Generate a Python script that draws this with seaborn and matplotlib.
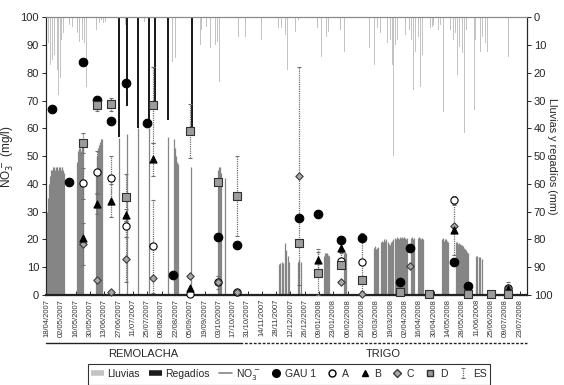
import numpy as np
import pandas as pd
import matplotlib
matplotlib.use("Agg")
import matplotlib.pyplot as plt
import matplotlib.dates as mdates
from matplotlib.lines import Line2D
import seaborn as sns

nan = np.nan
inicio = pd.Timestamp("2007-04-18")

# muestreos (dias desde 18/04/2007) y NO3- (mg/l)
muestreo_dia = [5, 21, 35, 49, 63, 77, 98, 104, 123, 140, 167, 186,
                246, 265, 287, 308, 345, 355, 373, 398, 412, 434, 451]
gau1 = [67, 40.8, 84, 70.2, 62.8, 76.4, 61.8, nan, 7.2, nan, 20.8, 17.8,
        27.8, 29, 19.8, 20.6, 4.5, 17, nan, 11.8, 3.2, nan, nan]
a = [nan, nan, 40.2, 44.4, 42, 24.8, nan, 17.5, nan, 0.3, 4.5, 1,
     nan, nan, 12.3, 11.8, nan, nan, nan, 34.3, nan, nan, 2.5]
b = [nan, nan, 20.4, 32.6, 34, 28.8, nan, 48.8, nan, 2.6, nan, nan,
     nan, 12.6, 17, nan, nan, nan, nan, 23.5, nan, nan, 2]
c = [nan, nan, 18.3, 5.2, 1.2, 12.8, nan, 6, nan, 6.8, 4.5, 1.2,
     42.8, nan, 4.5, 0.4, nan, 10.4, nan, 25, nan, nan, 2.5]
d = [nan, nan, 54.8, 68.3, 68.6, 35.1, nan, 68.4, nan, 59.1, 40.5, 35.7,
     18.6, 7.8, 10.8, 5.2, 1.2, nan, 0.2, nan, 0.2, 0.2, 0.2]
# error estandar (ES)
es_a = [nan, nan, 5.5, 7.6, 8, 4, nan, 16.8, nan, nan, nan, nan,
        nan, nan, 3, 10.5, nan, nan, nan, 1.4, nan, nan, 2]
es_b = [nan, nan, nan, 3.6, 5.8, 2, nan, 5.8, nan, nan, nan, nan,
        nan, 3.8, 2, nan, nan, nan, nan, 9, nan, nan, nan]
es_c = [nan, nan, 7.5, nan, nan, 8, nan, nan, nan, nan, 2.2, nan,
        39.4, nan, nan, nan, nan, nan, nan, nan, nan, nan, nan]
es_d = [nan, nan, 3.7, 2, 2.3, 8.4, nan, 13.6, nan, 9.7, nan, 14.3,
        nan, 7.8, nan, nan, nan, nan, nan, nan, nan, nan, nan]

# lluvias (mm)
lluvia_dia = [1, 3, 5, 7, 10, 11, 13, 14, 16, 22, 25, 30, 32, 35, 37, 39, 41,
              48, 51, 53, 55, 57, 77, 79, 95, 123, 126, 128, 150, 151, 156,
              160, 165, 167, 169, 174, 187, 194, 210, 215, 217, 226, 229,
              233, 235, 243, 246, 261, 264, 268, 273, 275, 287, 291, 315,
              320, 323, 326, 333, 336, 338, 339, 341, 343, 346, 348, 350,
              354, 356, 358, 360, 363, 365, 367, 375, 377, 378, 383, 385,
              388, 390, 393, 394, 397, 399, 401, 403, 406, 408, 410, 418,
              419, 424, 426, 429, 431, 434, 451]
lluvia_mm = [9.4, 17.2, 15.4, 13.6, 19, 28, 22, 8.2, 5.8, 2.8, 3.4, 5.8, 8.8,
             8.2, 9.4, 25, 5.2, 4.6, 2.2, 1, 2.2, 1.6, 2.8, 2.2, 1.6, 16,
             14.8, 13.6, 10, 4.6, 3.4, 11.2, 10, 8.8, 23.2, 14.2, 7, 7, 8.2,
             10, 7, 4, 4, 6.4, 19, 5.2, 1, 5.2, 4, 14.2, 7, 5.2, 4.6, 12.4,
             11.2, 17.2, 4, 5.8, 9.4, 8.2, 17.2, 50, 10, 8.2, 10, 9.4, 6.4,
             4.6, 8.2, 26.2, 12.4, 7, 25, 13.6, 4, 3.4, 2.8, 4.6, 2.8, 34,
             15.4, 8.8, 4.6, 8.2, 5.8, 20.8, 10.6, 13, 41.7, 4.6, 33.3, 8.2,
             12.4, 7, 9.4, 12.4, 8.2, 14.2]

# regadios (mm)
riego_dia = [70, 78, 89, 100, 106, 118, 142]
riego_mm = [43, 32, 40, 39, 33, 37, 41]

# NO3- continuo (mg/l)
no3_dia = [-1, 0, 1, 2, 3, 4, 5, 6, 7, 8, 9, 10, 11, 12, 13, 14, 15, 16, 17,
           29, 30, 31, 32, 33, 34, 35,
           48, 49, 50, 51, 52, 53, 54,
           70, 78, 89, 100, 118, 124, 125, 126, 127, 128, 141,
           167, 168, 169, 170, 174,
           227, 228, 230, 231, 233, 234, 236, 237, 245, 246, 248,
           271, 272, 273, 274, 275, 276, 290, 291, 292,
           320, 321, 322, 323, 324, 326, 327, 328, 329, 330, 331,
           333, 334, 335, 336, 337, 338, 340, 341, 342, 343, 344, 345, 346,
           347, 348, 349, 350, 351, 352, 356, 357, 358, 359,
           363, 364, 365, 366, 367, 368,
           386, 387, 388, 389, 390, 391, 392,
           400, 401, 402, 403, 404, 405, 406, 407, 408, 409, 410, 411, 412,
           419, 420, 422, 423, 425]
no3_val = [26, 30, 35, 40, 43, 45, 45, 46, 46, 45, 46, 46, 45, 46, 46, 45, 46, 45, 44,
           48, 52, 53, 53, 52, 54, 53,
           45, 50, 53, 54, 55, 56, 56,
           56.5, 58, 60, 60, 57, 56, 53, 50, 48, 47, 46,
           45, 46, 46, 44, 42,
           11, 11.5, 12, 11.5, 18.7, 16, 14, 12, 12, 12.6, 12,
           14, 15, 15, 15, 14.5, 14, 15, 15.5, 15,
           17, 17.5, 16.5, 17, 17.2, 19, 19.5, 19, 20, 19.5, 20,
           19, 18.5, 18, 19, 19.5, 20, 20.5, 20, 21, 20.5, 20, 21, 20.5,
           21, 20.5, 21, 20.5, 20, 20.5, 20.5, 21, 20, 20.5,
           20.5, 21, 20.5, 20, 20.5, 20,
           20, 20.5, 19.5, 20, 20, 19.5, 19,
           19, 19, 18.5, 18.7, 18.5, 18, 18, 17.5, 17, 16.5, 16, 15.5, 15,
           14, 14, 13.5, 13.5, 13]

cultivos = ["REMOLACHA", "TRIGO"]
cambio_cultivo = pd.Timestamp("2007-10-24")
x_ini = pd.Timestamp("2007-04-17")
x_fin = pd.Timestamp("2008-07-30")

def fechas(dias):
    return [inicio + pd.Timedelta(days=v) for v in dias]

df = pd.DataFrame({"fecha": fechas(muestreo_dia), "GAU 1": gau1, "A": a,
                   "B": b, "C": c, "D": d, "es_A": es_a, "es_B": es_b,
                   "es_C": es_c, "es_D": es_d})

sns.set_style("ticks")
plt.rcParams["font.family"] = ["Liberation Sans", "DejaVu Sans"]

fig = plt.figure(figsize=(5.64, 3.85), dpi=100)
ax = fig.add_subplot(111)
fig.subplots_adjust(left=0.0816, right=0.934, bottom=0.234, top=0.955)
ax2 = ax.twinx()

c_lluvia = "#c3c3c3"
c_riego = "#1c1c1c"
c_no3 = "#858585"

ax2.bar(fechas(lluvia_dia), lluvia_mm, width=0.9, color=c_lluvia, linewidth=0)
ax2.bar(fechas(riego_dia), riego_mm, width=2.0, color=c_riego, linewidth=0)
ax2.set_ylim(100, 0)
ax2.set_yticks(range(0, 101, 10))
ax2.tick_params(axis="y", labelsize=8, length=3, width=0.7, pad=2)
ax2.set_ylabel("Lluvias y regadíos (mm)", rotation=270, fontsize=7.8,
               va="center", ha="center")
ax2.yaxis.set_label_coords(1.052, 0.5)

ax.set_zorder(ax2.get_zorder() + 1)
ax.patch.set_visible(False)

ax.vlines(fechas(no3_dia), 0, no3_val, color=c_no3, lw=0.9, zorder=2)

h_es = None
for serie in ["A", "B", "C", "D"]:
    sub = df.dropna(subset=[serie, "es_" + serie])
    cont = ax.errorbar(sub["fecha"], sub[serie], yerr=sub["es_" + serie],
                       fmt="none", ecolor="#707070", elinewidth=0.9,
                       capsize=1.6, capthick=0.8, zorder=3)
    cont.lines[2][0].set_linestyle((0, (1, 0.8)))
    for cap in cont.lines[1]:
        cap.set_color("#222222")
    if serie == "D":
        h_es = cont

estilos = [("GAU 1", "o", "black", "black", 38),
           ("A", "o", "white", "black", 27),
           ("C", "D", "#a8a8a8", "#3a3a3a", 14),
           ("B", "^", "black", "black", 26),
           ("D", "s", "#9c9c9c", "#303030", 26)]
for i, (serie, mk, fc, ec, sz) in enumerate(estilos):
    sns.scatterplot(data=df, x="fecha", y=serie, marker=mk, color=fc,
                    edgecolor=ec, linewidth=0.8, s=sz, ax=ax, zorder=5 + i,
                    legend=False, clip_on=False)

ax.set_xlim(x_ini, x_fin)
ax.set_ylim(0, 100)
ax.set_yticks(range(0, 101, 10))
ax.set_xticks(pd.date_range("2007-04-18", "2008-07-23", freq="14D"))
ax.xaxis.set_major_formatter(mdates.DateFormatter("%d/%m/%Y"))
ax.tick_params(axis="x", direction="in", length=3, width=0.7, labelsize=5.5,
               labelrotation=90, pad=3, labelcolor="#333333")
ax.tick_params(axis="y", labelsize=8, length=3, width=0.7, pad=2)
ax.set_xlabel("")
ax.set_ylabel("NO$_3^-$ (mg/l)", fontsize=8.5, labelpad=3)

for sp in ["left", "right"]:
    ax.spines[sp].set_linewidth(0.8)
    ax2.spines[sp].set_linewidth(0.8)
ax.spines["bottom"].set_linewidth(1.6)
ax.spines["bottom"].set_color("#222222")
ax.spines["top"].set_color("#8a8a8a")
ax2.spines["top"].set_color("#8a8a8a")

# cultivos bajo el eje
tr = ax.get_xaxis_transform()
ax.plot([x_ini, cambio_cultivo], [-0.173, -0.173], color="#222222", lw=1.0,
        transform=tr, clip_on=False)
ax.plot([cambio_cultivo, x_fin], [-0.173, -0.173], color="#222222", lw=1.0,
        ls=(0, (2, 1.2)), transform=tr, clip_on=False)
ax.text(x_ini + (cambio_cultivo - x_ini) / 2, -0.212, cultivos[0], transform=tr,
        ha="center", va="center", fontsize=8)
ax.text(cambio_cultivo + (x_fin - cambio_cultivo) / 2, -0.212, cultivos[1],
        transform=tr, ha="center", va="center", fontsize=8)

handles = [Line2D([], [], color=c_lluvia, lw=4, solid_capstyle="butt"),
           Line2D([], [], color=c_riego, lw=4, solid_capstyle="butt"),
           Line2D([], [], color=c_no3, lw=1.2),
           Line2D([], [], marker="o", ls="none", mfc="black", mec="black", ms=5.5),
           Line2D([], [], marker="o", ls="none", mfc="white", mec="black", ms=5),
           Line2D([], [], marker="^", ls="none", mfc="black", mec="black", ms=5),
           Line2D([], [], marker="D", ls="none", mfc="#a8a8a8", mec="#3a3a3a", ms=4),
           Line2D([], [], marker="s", ls="none", mfc="#9c9c9c", mec="#303030", ms=4.5),
           h_es]
labels = ["Lluvias", "Regadíos", "NO$_3^-$", "GAU 1", "A", "B", "C", "D", "ES"]
leg = fig.legend(handles, labels, loc="center", bbox_to_anchor=(0.512, 0.028),
                 ncol=9, frameon=True, fancybox=False, edgecolor="black",
                 fontsize=7.5, handlelength=1.3, handletextpad=0.3,
                 columnspacing=0.85, borderpad=0.3)
leg.get_frame().set_linewidth(0.8)

fig.savefig("out.png", dpi=100)
